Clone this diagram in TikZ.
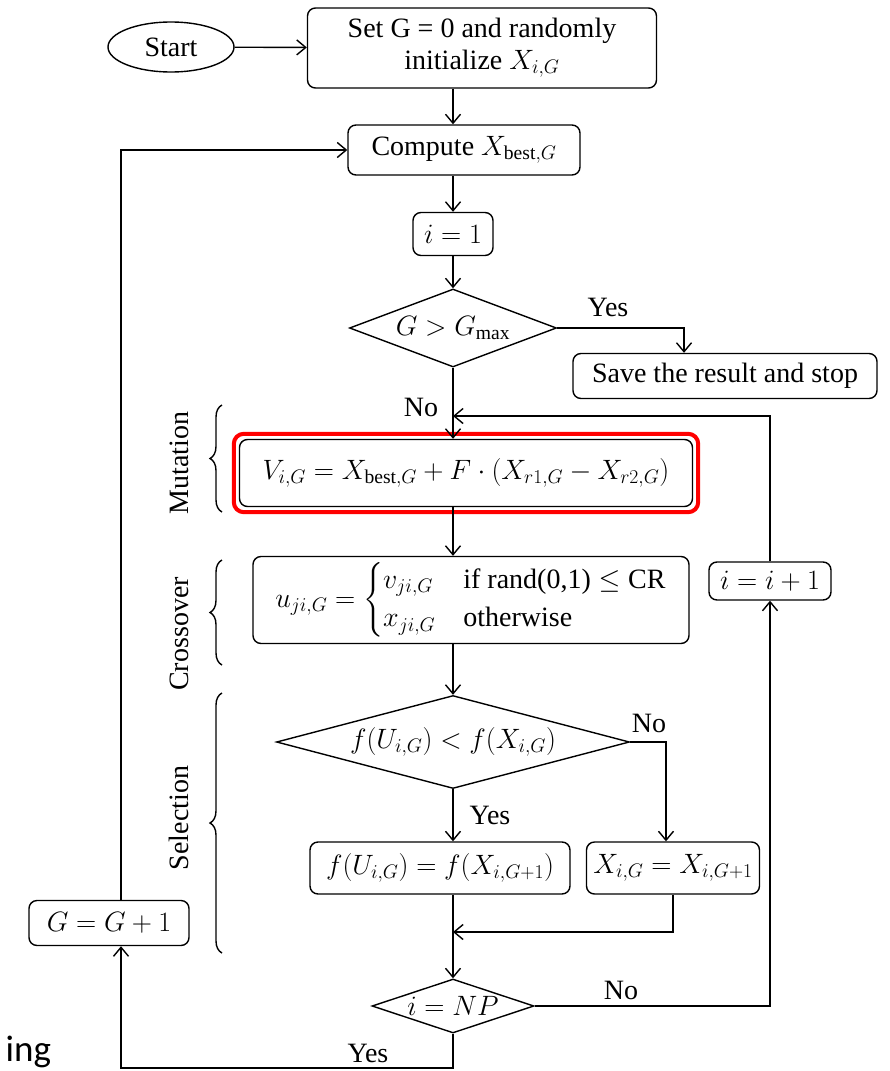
\RequirePackage{fix-cm}
\documentclass[tikz,border=0pt]{standalone}
\usepackage{amsmath}
\usepackage{fontspec}
\setmainfont{Liberation Serif}
\newfontfamily\slidefont{Carlito}
\usetikzlibrary{arrows.meta,positioning,shapes.geometric,decorations.pathreplacing,fit}
\tikzset{
	box/.style={draw,rectangle,rounded corners=8pt,align=center,inner sep=0pt},
	cond/.style={draw,diamond,inner sep=0pt},
	lbl/.style={inner sep=0pt},
	phase/.style={rotate=90,inner sep=0pt},
	brc/.style={decorate,decoration={brace,amplitude=12pt}},
	hilite/.style={draw=red,line width=4pt,rounded corners=10pt,inner sep=5pt},
	>={Straight Barb[length=9pt,width=15pt]}
}

\begin{document}
\begin{tikzpicture}[x=1pt,y=-1pt,line width=1.4pt,font=\fontsize{28}{32}\selectfont]
	\useasboundingbox (0,0) rectangle (889,1071);
	\node[draw,ellipse,minimum width=126pt,minimum height=50pt] (start) at (171,47) {Start};
	\node[box,minimum width=349pt,minimum height=80pt] (init) at (482,48) {Set G = 0 and randomly\\initialize $X_{i,G}$};
	\node[box,minimum width=232pt,minimum height=50pt] (comp) at (464,150) {Compute $X_{\mathrm{best},G}$};
	\node[box,minimum width=80pt,minimum height=43pt] (ione) at (453,234) {$i=1$};
	\node[cond,aspect=2.65,minimum width=207pt,minimum height=78pt] (gmax) at (453,328) {$G>G_{\max}$};
	\node[box,minimum width=304pt,minimum height=45pt] (save) at (725,376) {Save the result and stop};
	\node[box,minimum width=453pt,minimum height=67pt] (mut) at (466,473) {$V_{i,G}=X_{\mathrm{best},G}+F\cdot(X_{r1,G}-X_{r2,G})$};
	\node[hilite,fit=(mut)] (mutmark) {};
	\node[box,minimum width=436pt,minimum height=87pt] (cross) at (471,600) {$u_{ji,G}=\begin{cases} v_{ji,G} & \text{if rand(0,1)} \le \text{CR}\\ x_{ji,G} & \text{otherwise}\end{cases}$};
	\node[box,minimum width=122pt,minimum height=38pt] (inc) at (770,581) {$i=i+1$};
	\node[cond,aspect=3.8,minimum width=353pt,minimum height=93pt] (sel) at (453,742) {$f(U_{i,G})<f(X_{i,G})$};
	\node[box,minimum width=260pt,minimum height=52pt] (fbox) at (440,868) {$f(U_{i,G})=f(X_{i,G+1})$};
	\node[box,minimum width=173pt,minimum height=52pt] (xbox) at (673,868) {$X_{i,G}=X_{i,G+1}$};
	\node[cond,aspect=3,minimum width=162pt,minimum height=54pt] (np) at (453,1006) {$i=NP$};
	\node[box,minimum width=160pt,minimum height=45pt] (gg) at (109,923) {$G=G+1$};

	\node[coordinate] (yes1) at (684,328) {};
	\node[coordinate] (merge) at (453,416) {};
	\node[coordinate] (no1) at (666,742) {};
	\node[coordinate] (join) at (453,932) {};
	\node[coordinate] (back) at (121,1068) {};

	\draw[->] (start) -- (init);
	\draw[->] (init.south -| ione) -- (comp.north -| ione);
	\draw[->] (comp.south -| ione) -- (ione);
	\draw[->] (ione) -- (gmax);
	\draw[->] (gmax) -- (yes1) -- (yes1 |- save.north);
	\draw[->] (gmax) -- (gmax |- mut.north);
	\draw[->] (inc) |- (merge);
	\draw[->] (mut.south -| ione) -- (cross.north -| ione);
	\draw[->] (cross.south -| ione) -- (sel);
	\draw[->] (sel) -- (no1) -- (no1 |- xbox.north);
	\draw[->] (sel) -- (sel |- fbox.north);
	\draw[->] (xbox) |- (join);
	\draw[->] (fbox.south -| ione) -- (np);
	\draw[->] (np) -| (inc);
	\draw[->] (np) |- (back) -- (back |- gg.south);
	\draw[->] (back |- gg.north) |- (comp);

	\node[lbl] (yesa) at (608,307) {Yes};
	\node[lbl] (noa) at (421,407) {No};
	\node[lbl] (nob) at (649,723) {No};
	\node[lbl] (yesb) at (490,815) {Yes};
	\node[lbl] (noc) at (621,990) {No};
	\node[lbl] (yesc) at (368,1053) {Yes};

	\draw[brc] (222,512) -- (222,405);
	\draw[brc] (222,665) -- (222,560);
	\draw[brc] (222,953) -- (222,693);
	\node[phase] (mutlbl) at (179,463) {Mutation};
	\node[phase] (crosslbl) at (179,634) {Crossover};
	\node[phase] (sellbl) at (179,818) {Selection};

	\node[anchor=base west,inner sep=0pt,font=\slidefont\fontsize{37}{40}\selectfont] (cut) at (5,1061) {ing};
\end{tikzpicture}
\end{document}
